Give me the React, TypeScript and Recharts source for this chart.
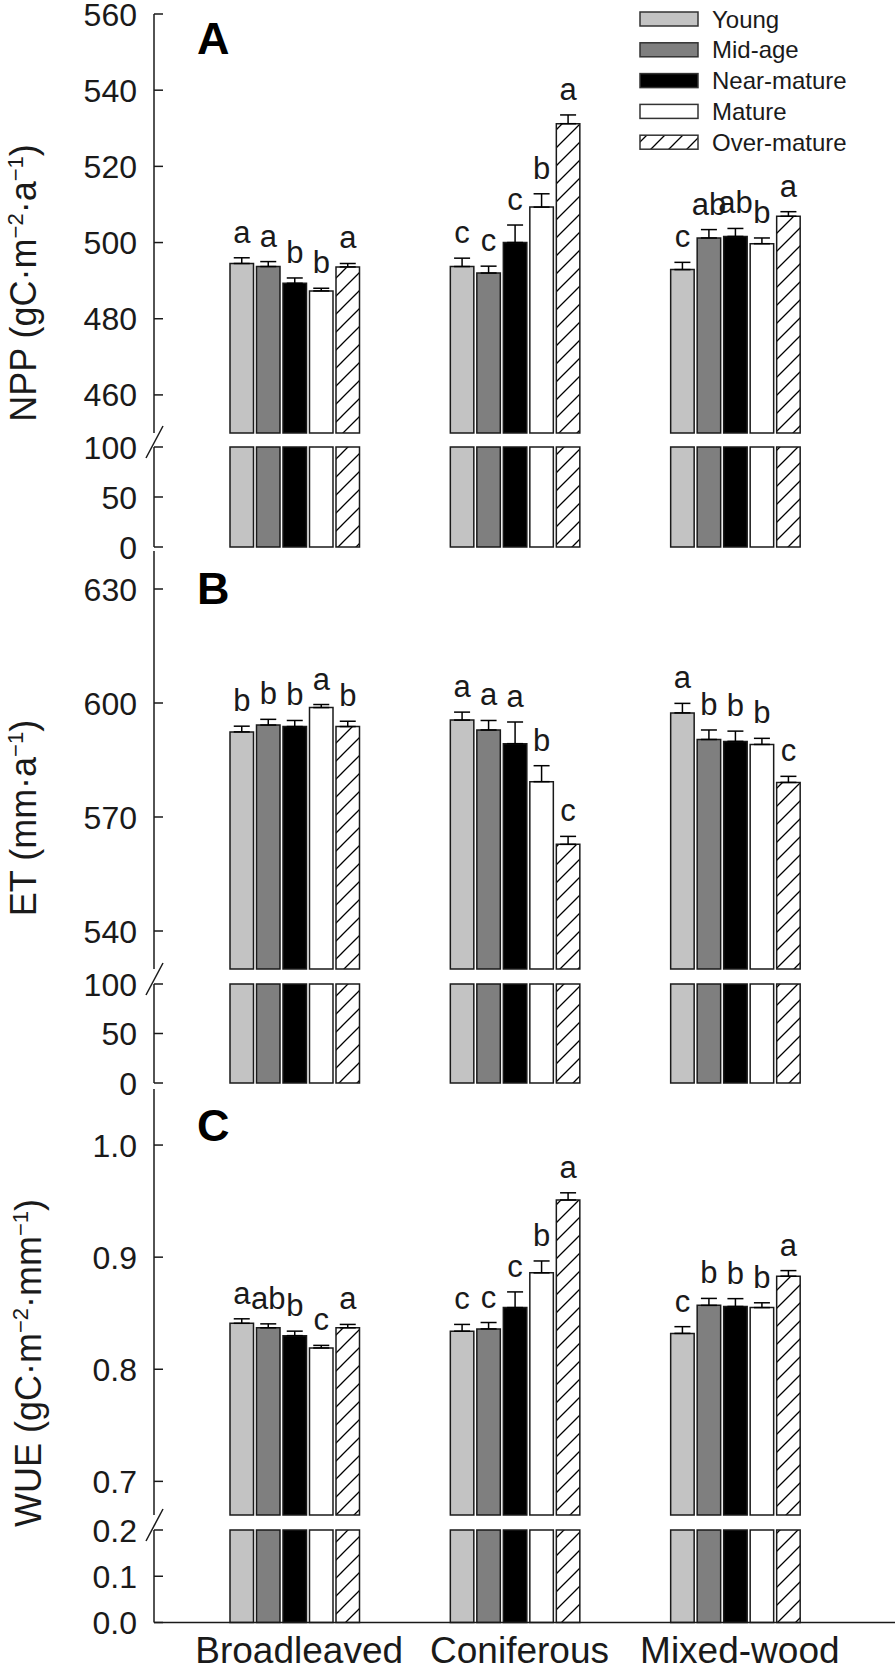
import React from 'react';
import { BarChart, Bar, XAxis, YAxis, ErrorBar, LabelList, Legend } from 'recharts';

const FONT = '"Liberation Sans", Arial, Helvetica, sans-serif';
const INK = '#1a1a1a';

const categories = ['Broadleaved', 'Coniferous', 'Mixed-wood'];
const ageClasses = ['Young', 'Mid-age', 'Near-mature', 'Mature', 'Over-mature'];
const ageFills = ['#c3c3c3', '#7f7f7f', '#000000', '#ffffff', 'url(#hatch)'];

// rows = forest type, columns = age class
const nppMean = [
  [494.5, 493.7, 489.3, 487.3, 493.6],
  [493.7, 492.0, 500.0, 509.3, 531.2],
  [492.9, 501.2, 501.6, 499.7, 506.9],
];
const nppErr = [
  [1.5, 1.3, 1.4, 0.7, 0.9],
  [2.2, 1.8, 4.6, 3.5, 2.3],
  [1.9, 2.2, 2.1, 1.5, 1.2],
];
const nppSig = [
  ['a', 'a', 'b', 'b', 'a'],
  ['c', 'c', 'c', 'b', 'a'],
  ['c', 'ab', 'ab', 'b', 'a'],
];

const etMean = [
  [592.4, 594.2, 593.8, 598.8, 593.8],
  [595.5, 592.9, 589.3, 579.3, 562.8],
  [597.4, 590.4, 589.9, 589.1, 579.1],
];
const etErr = [
  [1.5, 1.5, 1.6, 0.8, 1.4],
  [2.1, 2.5, 5.7, 4.2, 2.1],
  [2.5, 2.5, 2.7, 1.6, 1.6],
];
const etSig = [
  ['b', 'b', 'b', 'a', 'b'],
  ['a', 'a', 'a', 'b', 'c'],
  ['a', 'b', 'b', 'b', 'c'],
];

const wueMean = [
  [0.841, 0.837, 0.83, 0.819, 0.837],
  [0.834, 0.836, 0.855, 0.886, 0.951],
  [0.832, 0.857, 0.856, 0.855, 0.883],
];
const wueErr = [
  [0.004, 0.0035, 0.004, 0.0023, 0.003],
  [0.006, 0.0057, 0.014, 0.0106, 0.0064],
  [0.006, 0.0062, 0.007, 0.0043, 0.005],
];
const wueSig = [
  ['a', 'ab', 'b', 'c', 'a'],
  ['c', 'c', 'c', 'b', 'a'],
  ['c', 'b', 'b', 'b', 'a'],
];

const nppTicksUpper = [460, 480, 500, 520, 540, 560];
const nppTicksLower = [0, 50, 100];
const etTicksUpper = [540, 570, 600, 630];
const etTicksLower = [0, 50, 100];
const wueTicksUpper = [0.7, 0.8, 0.9, 1.0];
const wueTicksLower = [0, 0.1, 0.2];

const buildRows = (mean: number[][], err: number[][], sig: string[][], lowerMax: number) =>
  categories.map((cat, i) => {
    const row: any = { cat };
    ageClasses.forEach((_, j) => {
      row['v' + j] = mean[i][j];
      row['e' + j] = [0, err[i][j]];
      row['s' + j] = sig[i][j];
      row['lo' + j] = Math.min(mean[i][j], lowerMax);
    });
    return row;
  });

const makeYTick = (decimals: number, breakAt?: number) => (p: any) => {
  const { x, y, payload } = p;
  return (
    <g>
      <line x1={x} x2={x + 9} y1={y} y2={y} stroke={INK} strokeWidth={1.5} />
      {breakAt !== undefined && payload.value === breakAt && (
        <line x1={x - 8} y1={y + 11} x2={x + 9} y2={y - 21} stroke={INK} strokeWidth={1.5} />
      )}
      <text x={x - 17} y={y} dy="0.36em" textAnchor="end" fontSize={32} fontFamily={FONT} fill={INK}>
        {Number(payload.value).toFixed(decimals)}
      </text>
    </g>
  );
};

const XTick = (p: any) => (
  <text x={p.x + 4} y={p.y + 40} textAnchor="middle" fontSize={37} fontFamily={FONT} fill={INK}>
    {p.payload.value}
  </text>
);

// significance letter sitting above the error bar cap
const sigLabel = (mean: number[][], err: number[][], dMin: number, j: number) => (props: any) => {
  const vb = props.viewBox || props;
  const h = Math.abs(vb.height);
  const top = Math.min(vb.y, vb.y + vb.height);
  const i = props.index;
  const errPx = (err[i][j] * h) / (mean[i][j] - dMin);
  return (
    <text x={vb.x + vb.width / 2} y={top - errPx - 15} textAnchor="middle" fontSize={31} fontFamily={FONT} fill={INK}>
      {props.value}
    </text>
  );
};

const renderLegend = () => (
  <svg width={258} height={160}>
    {ageClasses.map((name, k) => (
      <g key={name}>
        <rect x={2} y={12 + k * 30.8} width={58} height={14} fill={ageFills[k]} stroke="#333" strokeWidth={1.5} />
        <text x={74} y={27.5 + k * 30.8} fontSize={24} fontFamily={FONT} fill={INK}>
          {name}
        </text>
      </g>
    ))}
  </svg>
);

type Part = [string, boolean];

const renderTitle = (parts: Part[], x: number, y: number) => {
  let sup = false;
  const spans = parts.map(([t, isSup], k) => {
    const dy = isSup && !sup ? -13 : !isSup && sup ? 13 : 0;
    sup = isSup;
    return (
      <tspan key={k} dy={dy} fontSize={isSup ? 22 : undefined}>
        {t}
      </tspan>
    );
  });
  return (
    <text x={x} y={y} transform={`rotate(-90 ${x} ${y})`} textAnchor="middle" fontSize={36} fontFamily={FONT} fill={INK}>
      {spans}
    </text>
  );
};

type Geo = { upperTop: number; upperBottom: number; lowerTop: number; lowerBottom: number };

type PanelProps = {
  mean: number[][];
  err: number[][];
  sig: string[][];
  upperDomain: [number, number];
  upperTicks: number[];
  lowerDomain: [number, number];
  lowerTicks: number[];
  decimals: number;
  geo: Geo;
  title: Part[];
  titleX: number;
  titleY: number;
  letter: string;
  letterY: number;
  withLegend?: boolean;
  withCategories?: boolean;
};

const PAD = 30;
const X_PADDING = { left: 31, right: 49 };

function Panel(props: PanelProps) {
  const { mean, err, sig, upperDomain, upperTicks, lowerDomain, lowerTicks, decimals, geo } = props;
  const rows = buildRows(mean, err, sig, lowerDomain[1]);
  const upT = geo.upperTop - PAD;
  const upH = PAD + (geo.upperBottom - geo.upperTop) + PAD;
  const loT = geo.lowerTop - PAD;
  const xAxisH = props.withCategories ? 1669 - geo.lowerBottom : 0;
  const loBottom = props.withCategories ? 0 : 20;
  const loH = PAD + (geo.lowerBottom - geo.lowerTop) + xAxisH + loBottom;
  const axisLine = { stroke: INK, strokeWidth: 1.5 };

  const titleContent = () => (
    <g>
      {renderTitle(props.title, props.titleX, props.titleY - upT)}
      <text x={197} y={props.letterY - upT} fontSize={45} fontWeight="bold" fontFamily={FONT} fill="#000">
        {props.letter}
      </text>
    </g>
  );

  return (
    <>
      <div style={{ position: 'absolute', left: 0, top: upT }}>
        <BarChart width={896} height={upH} data={rows} margin={{ top: PAD, right: 1, bottom: PAD, left: 0 }} barSize={23.5} barGap={3}>
          <XAxis dataKey="cat" hide padding={X_PADDING} />
          <YAxis
            type="number"
            width={154}
            domain={upperDomain}
            ticks={upperTicks}
            interval={0}
            tickSize={0}
            tickMargin={0}
            tickLine={false}
            axisLine={axisLine}
            tick={makeYTick(decimals)}
            label={titleContent}
          />
          {props.withLegend && (
            <Legend
              layout="vertical"
              align="center"
              verticalAlign="middle"
              content={renderLegend}
              wrapperStyle={{ left: 638, top: PAD - 14, width: 258, height: 160 }}
            />
          )}
          {ageClasses.map((name, j) => (
            <Bar key={name} dataKey={'v' + j} name={name} fill={ageFills[j]} stroke={INK} strokeWidth={1.5} isAnimationActive={false}>
              <ErrorBar dataKey={'e' + j} width={8} stroke="#000" strokeWidth={1.5} direction="y" />
              <LabelList dataKey={'s' + j} content={sigLabel(mean, err, upperDomain[0], j)} />
            </Bar>
          ))}
        </BarChart>
      </div>
      <div style={{ position: 'absolute', left: 0, top: loT }}>
        <BarChart width={896} height={loH} data={rows} margin={{ top: PAD, right: 1, bottom: loBottom, left: 0 }} barSize={23.5} barGap={3}>
          <XAxis
            dataKey="cat"
            padding={X_PADDING}
            height={xAxisH}
            tickSize={0}
            tickMargin={0}
            tickLine={false}
            axisLine={axisLine}
            interval={0}
            tick={props.withCategories ? XTick : false}
          />
          <YAxis
            type="number"
            width={154}
            domain={lowerDomain}
            ticks={lowerTicks}
            interval={0}
            tickSize={0}
            tickMargin={0}
            tickLine={false}
            axisLine={axisLine}
            tick={makeYTick(decimals, lowerDomain[1])}
          />
          {ageClasses.map((name, j) => (
            <Bar key={name} dataKey={'lo' + j} name={name} fill={ageFills[j]} stroke={INK} strokeWidth={1.5} isAnimationActive={false} />
          ))}
        </BarChart>
      </div>
    </>
  );
}

export default function App() {
  return (
    <div style={{ position: 'relative', width: 896, height: 1669, background: '#fff', overflow: 'hidden' }}>
      <style>{'body{margin:0}'}</style>
      <svg width={0} height={0} style={{ position: 'absolute' }}>
        <defs>
          <pattern id="hatch" patternUnits="userSpaceOnUse" width={18} height={18}>
            <rect width={18} height={18} fill="#fff" />
            <path d="M0,18 L18,0 M-4.5,4.5 L4.5,-4.5 M13.5,22.5 L22.5,13.5" stroke="#000" strokeWidth={1.3} />
          </pattern>
        </defs>
      </svg>
      <Panel
        mean={nppMean}
        err={nppErr}
        sig={nppSig}
        upperDomain={[450, 560]}
        upperTicks={nppTicksUpper}
        lowerDomain={[0, 100]}
        lowerTicks={nppTicksLower}
        decimals={0}
        geo={{ upperTop: 14, upperBottom: 433, lowerTop: 447, lowerBottom: 547 }}
        title={[['NPP (gC·m', false], ['−2', true], ['·a', false], ['−1', true], [')', false]]}
        titleX={36}
        titleY={283}
        letter="A"
        letterY={54}
        withLegend
      />
      <Panel
        mean={etMean}
        err={etErr}
        sig={etSig}
        upperDomain={[530, 640]}
        upperTicks={etTicksUpper}
        lowerDomain={[0, 100]}
        lowerTicks={etTicksLower}
        decimals={0}
        geo={{ upperTop: 551, upperBottom: 969, lowerTop: 984, lowerBottom: 1083 }}
        title={[['ET (mm·a', false], ['−1', true], [')', false]]}
        titleX={36}
        titleY={818}
        letter="B"
        letterY={604}
      />
      <Panel
        mean={wueMean}
        err={wueErr}
        sig={wueSig}
        upperDomain={[0.67, 1.05]}
        upperTicks={wueTicksUpper}
        lowerDomain={[0, 0.2]}
        lowerTicks={wueTicksLower}
        decimals={1}
        geo={{ upperTop: 1089, upperBottom: 1515, lowerTop: 1530, lowerBottom: 1622.5 }}
        title={[['WUE (gC·m', false], ['−2', true], ['·mm', false], ['−1', true], [')', false]]}
        titleX={41}
        titleY={1363}
        letter="C"
        letterY={1141}
        withCategories
      />
    </div>
  );
}
